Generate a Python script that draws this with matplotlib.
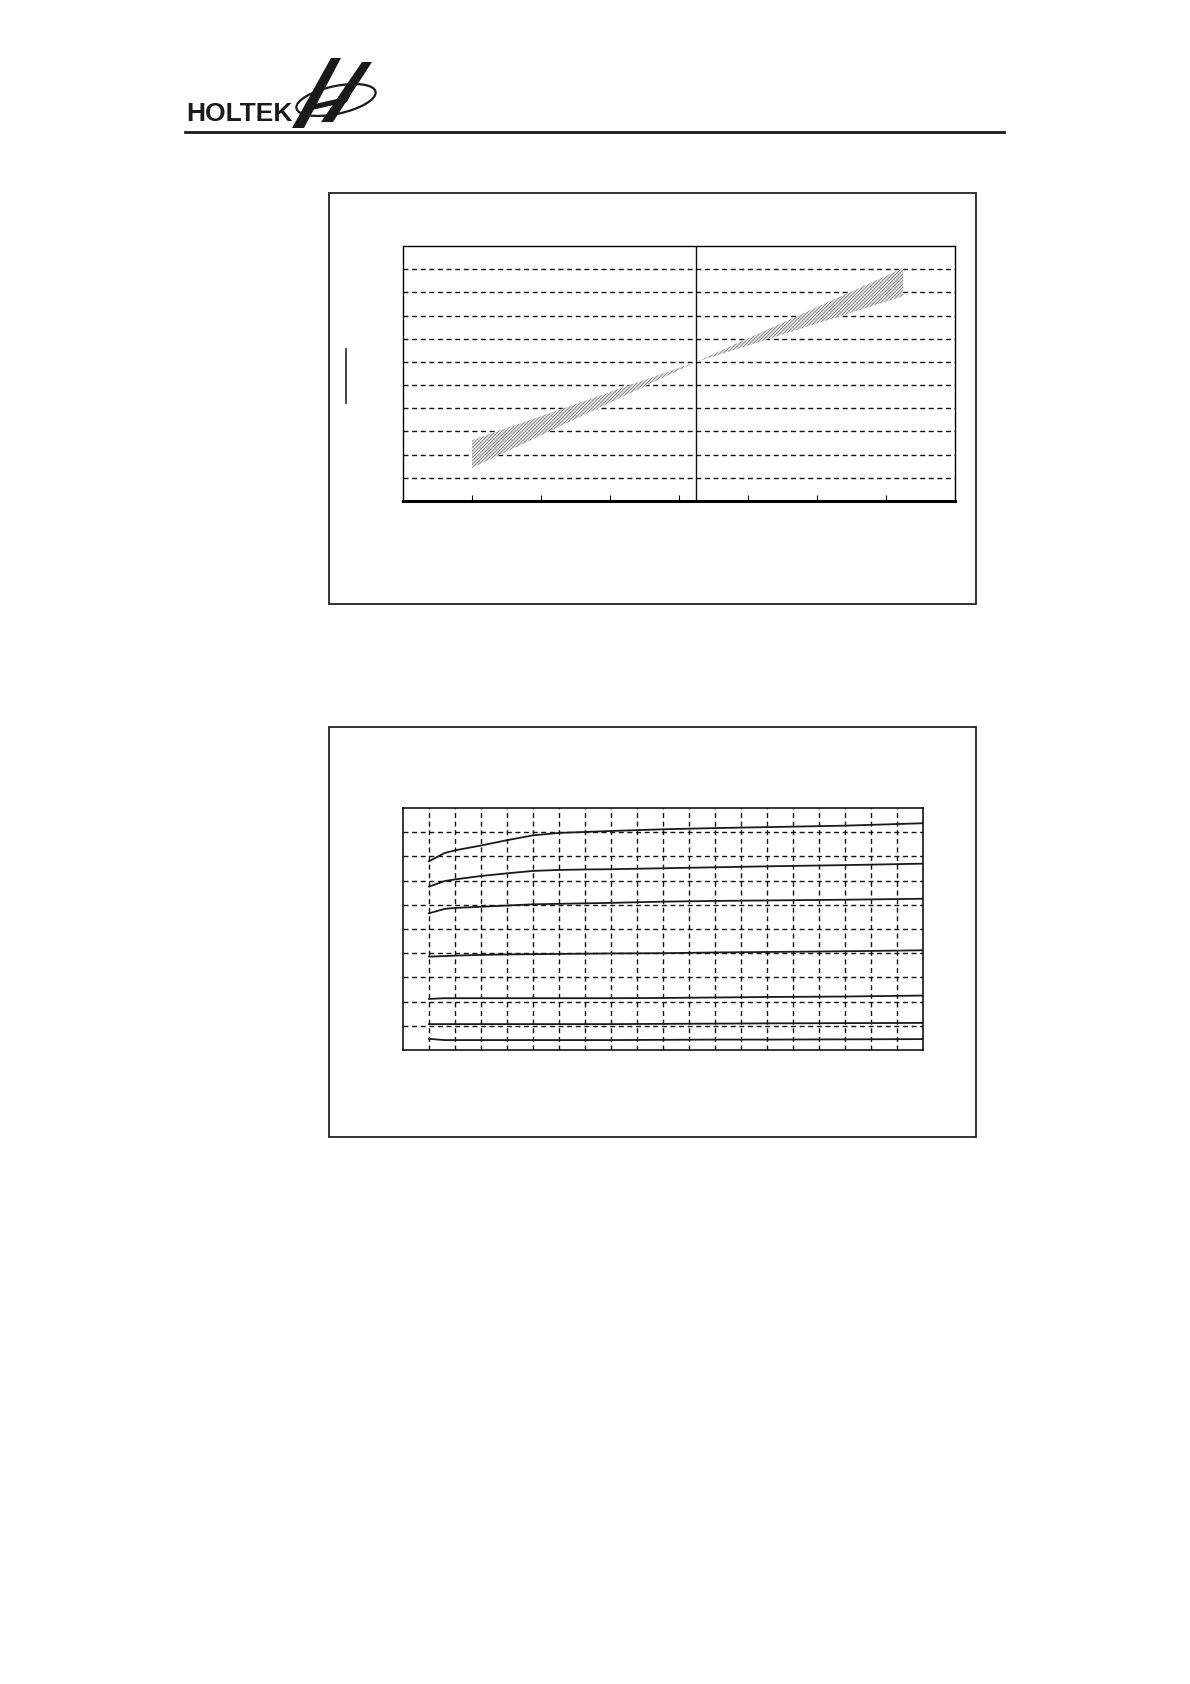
import matplotlib
matplotlib.use("Agg")
import matplotlib.pyplot as plt
from matplotlib.patches import Rectangle, Polygon, Ellipse
from matplotlib.lines import Line2D

# ---------------- data ----------------
# Chart 1: frequency deviation band vs temperature
temp_ticks = [-40, -20, 0, 20, 40, 60, 80]
dev_grid = [-10, -8, -6, -4, -2, 0, 2, 4, 6, 8]
ref_temp = 25
band_temp = [-40, 25, 85]
band_upper = [-6.76, 0.0, 8.10]
band_lower = [-9.15, 0.0, 5.68]

# Chart 2: family of curves
x_vals = [1, 1.6, 2, 3, 4, 5, 6, 7, 8, 10, 12, 14, 17, 20]
curve1 = [7.80, 8.14, 8.25, 8.45, 8.67, 8.87, 8.97, 9.01, 9.05, 9.12, 9.17, 9.21, 9.27, 9.37]
curve2 = [6.75, 6.98, 7.05, 7.19, 7.30, 7.40, 7.44, 7.46, 7.47, 7.51, 7.55, 7.59, 7.64, 7.70]
curve3 = [5.65, 5.83, 5.87, 5.92, 5.97, 6.02, 6.04, 6.06, 6.08, 6.13, 6.16, 6.18, 6.21, 6.25]
curve4 = [3.86, 3.88, 3.90, 3.93, 3.95, 3.96, 3.97, 3.98, 3.99, 4.00, 4.03, 4.05, 4.08, 4.12]
curve5 = [2.11, 2.14, 2.14, 2.14, 2.14, 2.14, 2.14, 2.14, 2.14, 2.15, 2.17, 2.19, 2.21, 2.25]
curve6 = [1.07, 1.07, 1.07, 1.07, 1.07, 1.07, 1.07, 1.07, 1.07, 1.08, 1.09, 1.10, 1.11, 1.12]
curve7 = [0.46, 0.41, 0.41, 0.41, 0.41, 0.41, 0.41, 0.41, 0.41, 0.42, 0.43, 0.43, 0.44, 0.45]
curves = [curve1, curve2, curve3, curve4, curve5, curve6, curve7]
x_grid = list(range(1, 20))
y_grid = list(range(1, 10))

# ---------------- figure ----------------
W, H = 1190, 1684
plt.rcParams["hatch.linewidth"] = 0.5
fig = plt.figure(figsize=(W / 100, H / 100), dpi=100)
fig.patch.set_facecolor("white")


def fx(px):
    return px / W


def fy(py):
    return 1 - py / H


# header logo
fig.text(fx(186), fy(121), "HOLTEK", family="Liberation Sans", weight="bold",
         fontsize=19, color="#1a1a1a", ha="left", va="baseline")
fig.patches.append(Ellipse((fx(336), fy(100)), fx(80), 28 / H, angle=8,
                           transform=fig.transFigure, fill=False,
                           edgecolor="#1a1a1a", linewidth=1.6))
bar1 = [(292, 128), (304, 128), (341, 58), (331, 58)]
bar2 = [(321, 122), (333, 122), (372, 62), (362, 62)]
cross = [(306, 106), (350, 96), (347, 102), (303, 112)]
for poly in (bar1, bar2, cross):
    fig.patches.append(Polygon([(fx(a), fy(b)) for a, b in poly], closed=True,
                               transform=fig.transFigure, facecolor="#1a1a1a",
                               edgecolor="none"))
fig.add_artist(Line2D([fx(185), fx(1004)], [fy(132), fy(132)],
                      transform=fig.transFigure, color="#1a1a1a", linewidth=2.0))

# frames
for top, bot in ((193, 604), (727, 1137)):
    fig.patches.append(Rectangle((fx(329), fy(bot)), fx(976) - fx(329), fy(top) - fy(bot),
                                 transform=fig.transFigure, fill=False,
                                 edgecolor="#222222", linewidth=1.3))

dash = (0, (3.6, 2.6))

# ---------------- chart 1 ----------------
ax1 = fig.add_axes([fx(403), fy(501), fx(955) - fx(403), fy(246) - fy(501)])
ax1.set_xlim(-60, 100)
ax1.set_ylim(-12, 10)
for v in dev_grid:
    ax1.axhline(v, color="#111111", linewidth=1.0, linestyle=dash)
ax1.axvline(ref_temp, color="#111111", linewidth=1.0)
ax1.fill_between(band_temp, band_lower, band_upper, facecolor="#e6e6e6",
                 edgecolor="#6e6e6e", hatch="/" * 10, linewidth=0, zorder=3)
ax1.set_xticks(temp_ticks)
ax1.set_yticks([])
ax1.tick_params(axis="x", direction="in", length=4, width=0.8, labelbottom=False)
for s in ("top", "left", "right"):
    ax1.spines[s].set_linewidth(1.0)
ax1.spines["bottom"].set_linewidth(2.2)

fig.add_artist(Line2D([fx(346), fx(346)], [fy(403), fy(349)],
                      transform=fig.transFigure, color="#222222", linewidth=1.2))

# ---------------- chart 2 ----------------
ax2 = fig.add_axes([fx(403), fy(1050), fx(923) - fx(403), fy(808) - fy(1050)])
ax2.set_xlim(0, 20)
ax2.set_ylim(0, 10)
for v in x_grid:
    ax2.axvline(v, color="#111111", linewidth=1.0, linestyle=dash)
for v in y_grid:
    ax2.axhline(v, color="#111111", linewidth=1.0, linestyle=dash)
for c in curves:
    ax2.plot(x_vals, c, color="#1a1a1a", linewidth=1.3)
ax2.set_xticks([])
ax2.set_yticks([])
for s in ax2.spines.values():
    s.set_linewidth(1.1)

fig.savefig("out.png", dpi=100, facecolor="white")
